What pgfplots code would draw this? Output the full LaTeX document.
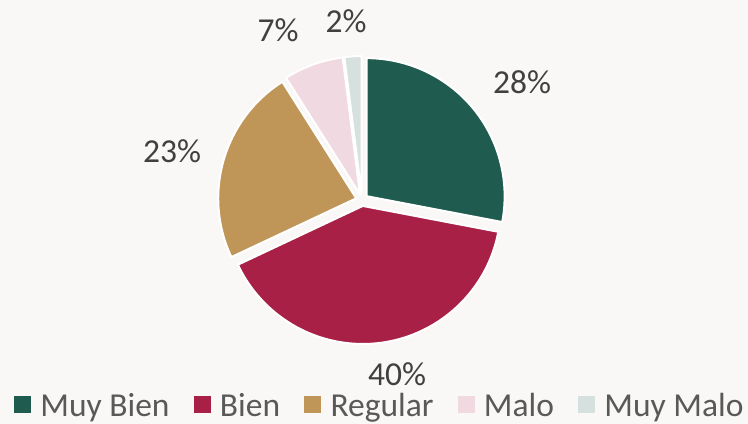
\documentclass[border=0pt]{standalone}
\usepackage{pgfplots}
\usepackage{pgfplotstable}
\pgfplotsset{compat=1.18}
\usepackage{fontspec}
\setmainfont{Carlito}

\definecolor{cMuyBien}{HTML}{1F5C4F}
\definecolor{cBien}{HTML}{A92047}
\definecolor{cRegular}{HTML}{C09658}
\definecolor{cMalo}{HTML}{F0D9E0}
\definecolor{cMuyMalo}{HTML}{D6E1DF}
\definecolor{bgcol}{HTML}{FAF8F6}
\definecolor{labelgray}{HTML}{404040}
\definecolor{legendgray}{HTML}{595959}

% share of answers (%), colour, label position (px, y up)
\pgfplotstableread[col sep=comma]{
value,color,lx,ly
28,cMuyBien,522,342
40,cBien,397,50
23,cRegular,172,273
7,cMalo,278,394
2,cMuyMalo,346,403
}\piedata

\newcommand{\bigfont}{\fontsize{33.5bp}{40bp}\selectfont}

\begin{document}
\begin{tikzpicture}
\begin{axis}[
  width=748bp, height=424bp, scale only axis,
  xmin=0, xmax=748, ymin=0, ymax=424,
  axis lines=none, clip=false,
  legend columns=5,
  legend style={at={(axis cs:14,6)}, anchor=south west,
    draw=none, fill=none, inner sep=0pt, outer sep=0pt,
    font=\bigfont, text=legendgray,
    nodes={inner sep=0pt},
    /tikz/every odd column/.append style={column sep=10bp},
    /tikz/every even column/.append style={column sep=24bp}},
]
\fill[bgcol] (axis cs:0,0) rectangle (axis cs:748,424);

\def\cumang{90}
\pgfplotsforeachungrouped \i in {0,...,4}{%
  \pgfplotstablegetelem{\i}{value}\of\piedata \let\v\pgfplotsretval
  \pgfplotstablegetelem{\i}{color}\of\piedata \let\c\pgfplotsretval
  \pgfplotstablegetelem{\i}{lx}\of\piedata \let\lx\pgfplotsretval
  \pgfplotstablegetelem{\i}{ly}\of\piedata \let\ly\pgfplotsretval
  \pgfmathsetmacro\a{\cumang}%
  \pgfmathsetmacro\b{\cumang-3.6*\v}%
  \pgfmathsetmacro\m{(\a+\b)/2}%
  \pgfmathsetmacro\ox{362+6*cos(\m)}%
  \pgfmathsetmacro\oy{224+6*sin(\m)}%
  \edef\doslice{\noexpand\filldraw[fill=\c, draw=white, line width=2bp, line join=round]
    (axis cs:\ox,\oy) -- ++(\a:138bp) arc[start angle=\a, end angle=\b, radius=138bp] -- cycle;}%
  \doslice
  \edef\dolabel{\noexpand\node[font=\noexpand\bigfont, text=labelgray, inner sep=0pt]
    at (axis cs:\lx,\ly) {\v\noexpand\%};}%
  \dolabel
  \global\let\cumang\b
}

\addlegendimage{legend image code/.code={\fill[cMuyBien] (0bp,-7bp) rectangle (16bp,9bp);}}
\addlegendentry{Muy Bien}
\addlegendimage{legend image code/.code={\fill[cBien] (0bp,-7bp) rectangle (16bp,9bp);}}
\addlegendentry{Bien}
\addlegendimage{legend image code/.code={\fill[cRegular] (0bp,-7bp) rectangle (16bp,9bp);}}
\addlegendentry{Regular}
\addlegendimage{legend image code/.code={\fill[cMalo] (0bp,-7bp) rectangle (16bp,9bp);}}
\addlegendentry{Malo}
\addlegendimage{legend image code/.code={\fill[cMuyMalo] (0bp,-7bp) rectangle (16bp,9bp);}}
\addlegendentry{Muy Malo}
\end{axis}
\end{tikzpicture}
\end{document}
